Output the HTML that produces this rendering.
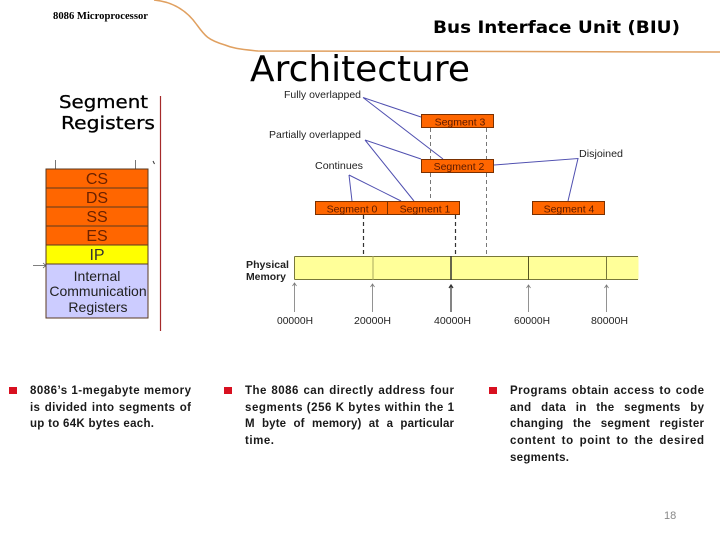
<!DOCTYPE html>
<html><head><meta charset="utf-8"><style>
html,body{margin:0;padding:0;background:#fff}
svg{display:block}
.b{font-family:"Liberation Sans",sans-serif;font-size:11.5px;font-weight:bold;fill:#1a1a1a}
.d{font-family:"Liberation Sans",sans-serif;font-size:10.5px;fill:#222}
.s{font-family:"Liberation Sans",sans-serif;font-size:10.5px;fill:#5a1a00;text-anchor:middle}
.r{font-family:"Liberation Sans",sans-serif;font-size:16px;fill:#6a2200;text-anchor:middle}
.c{font-family:"Liberation Sans",sans-serif;font-size:14px;fill:#222;text-anchor:middle}
.h{font-family:"DejaVu Sans",sans-serif;font-weight:bold;fill:#000}
</style></head><body>
<svg width="720" height="540" viewBox="0 0 720 540" xmlns="http://www.w3.org/2000/svg">
<rect width="720" height="540" fill="#fff"/>
<path d="M154 0C175 2 188 12 197 25C205 36 208 40 225 45C232 48 238 49 258 51L720 52" fill="none" stroke="#e0a060" stroke-width="1.5"/>
<text x="53" y="19" font-family="Liberation Serif,serif" font-size="11" font-weight="bold" textLength="95" lengthAdjust="spacingAndGlyphs">8086 Microprocessor</text>
<text class="h" x="433" y="33" font-size="17" textLength="247" lengthAdjust="spacingAndGlyphs">Bus Interface Unit (BIU)</text>
<text x="250" y="81" font-family="DejaVu Sans,sans-serif" font-size="36" fill="#000" textLength="220" lengthAdjust="spacingAndGlyphs">Architecture</text>
<text class="h" style="font-weight:normal;stroke:#000;stroke-width:.3" x="59" y="108" font-size="18" textLength="89" lengthAdjust="spacingAndGlyphs">Segment</text>
<text class="h" style="font-weight:normal;stroke:#000;stroke-width:.3" x="61" y="129" font-size="18" textLength="94" lengthAdjust="spacingAndGlyphs">Registers</text>
<line x1="160.500" y1="96" x2="160.500" y2="331" stroke="#a52a2a" stroke-width="1.2"/>
<path d="M55.500 160V169M135.500 160V169" stroke="#777" stroke-width="1"/>
<path d="M153 161l1.500 3" stroke="#333"/>
<g stroke="#5a3a20" stroke-width="1">
<rect x="46" y="169" width="102" height="19" fill="#ff6600"/>
<rect x="46" y="188" width="102" height="19" fill="#ff6600"/>
<rect x="46" y="207" width="102" height="19" fill="#ff6600"/>
<rect x="46" y="226" width="102" height="19" fill="#ff6600"/>
<rect x="46" y="245" width="102" height="19" fill="#ffff00"/>
<rect x="46" y="264" width="102" height="54" fill="#ccccff"/>
</g>
<text class="r" x="97" y="184">CS</text>
<text class="r" x="97" y="203">DS</text>
<text class="r" x="97" y="222">SS</text>
<text class="r" x="97" y="241">ES</text>
<text class="r" x="97" y="260" style="fill:#333">IP</text>
<text class="c" x="97" y="281">Internal</text>
<text class="c" x="98" y="296">Communication</text>
<text class="c" x="98" y="312">Registers</text>
<path d="M33 265.500H46M43 263l3 2.500-3 2.500" fill="none" stroke="#555" stroke-width=".8"/>

<text class="d" x="284" y="98" textLength="77" lengthAdjust="spacingAndGlyphs">Fully overlapped</text>
<text class="d" x="269" y="138" textLength="92" lengthAdjust="spacingAndGlyphs">Partially overlapped</text>
<text class="d" x="315" y="169" textLength="48" lengthAdjust="spacingAndGlyphs">Continues</text>
<text class="d" x="579" y="157" textLength="44" lengthAdjust="spacingAndGlyphs">Disjoined</text>
<g fill="none" stroke="#5050b0" stroke-width="1">
<path d="M363 97.500L421 117M363 97.500L443 159"/>
<path d="M365 140L421 159M365 140L414 201"/>
<path d="M349 175L352 201M349 175L401 201"/>
<path d="M494 165L578 158.500L568 201"/>
</g>
<g stroke="#777" stroke-width="1" fill="none" stroke-dasharray="4 3">
<path d="M430.500 128V159M486.500 128V159"/>
<path d="M430.500 173V201M486.500 173V256"/>
</g>
<g stroke="#7a3000" stroke-width="1" fill="#ff6600">
<rect x="421.500" y="114.500" width="72" height="13"/>
<rect x="421.500" y="159.500" width="72" height="13"/>
<rect x="315.500" y="201.500" width="72" height="13"/>
<rect x="387.500" y="201.500" width="72" height="13"/>
<rect x="532.500" y="201.500" width="72" height="13"/>
</g>
<text class="s" x="460" y="125.500">Segment 3</text>
<text class="s" x="459" y="170">Segment 2</text>
<text class="s" x="352" y="212.500">Segment 0</text>
<text class="s" x="425" y="212.500">Segment 1</text>
<text class="s" x="569" y="212.500">Segment 4</text>
<g stroke="#333" stroke-dasharray="4 3" fill="none" stroke-width="1.200">
<path d="M363.500 215V256M455.500 215V256"/>
</g>
<rect x="294.500" y="256.500" width="344" height="23" fill="#ffff99"/>
<path d="M294.500 256.500H638M294.500 279.500H638M294.500 256.500V279.500" fill="none" stroke="#77773a" stroke-width="1"/>
<path d="M373 256V280" stroke="#a8a860" stroke-width="1"/>
<path d="M451 256V280" stroke="#333" stroke-width="1.500"/>
<path d="M528.500 256V280" stroke="#555520" stroke-width="1"/>
<path d="M606.500 256V280" stroke="#77773a" stroke-width="1"/>
<text x="246" y="268" font-family="Liberation Sans,sans-serif" font-size="10" font-weight="bold" fill="#222" textLength="43" lengthAdjust="spacingAndGlyphs">Physical</text>
<text x="246" y="280" font-family="Liberation Sans,sans-serif" font-size="10" font-weight="bold" fill="#222" textLength="40" lengthAdjust="spacingAndGlyphs">Memory</text>
<g fill="none" stroke="#777" stroke-width=".8">
<path d="M294.500 312V283M292.500 286l2-3 2 3"/>
<path d="M372.500 312V284M370.500 287l2-3 2 3"/>
<path d="M451 312V285M449 288l2-3 2 3" stroke="#333" stroke-width="1.200"/>
<path d="M528.500 312V285M526.500 288l2-3 2 3"/>
<path d="M606.500 312V285M604.500 288l2-3 2 3"/>
</g>
<text class="d" x="277" y="324" textLength="36" lengthAdjust="spacingAndGlyphs">00000H</text>
<text class="d" x="354" y="324" textLength="37" lengthAdjust="spacingAndGlyphs">20000H</text>
<text class="d" x="434" y="324" textLength="37" lengthAdjust="spacingAndGlyphs">40000H</text>
<text class="d" x="514" y="324" textLength="36" lengthAdjust="spacingAndGlyphs">60000H</text>
<text class="d" x="591" y="324" textLength="37" lengthAdjust="spacingAndGlyphs">80000H</text>

<rect x="9" y="387" width="8" height="7" fill="#d81020"/>
<rect x="224" y="387" width="8" height="7" fill="#d81020"/>
<rect x="489" y="387" width="8" height="7" fill="#d81020"/>
<text class="b" x="30" y="394" textLength="161" lengthAdjust="spacing">8086’s 1-megabyte memory</text>
<text class="b" x="30" y="411" textLength="161" lengthAdjust="spacing" word-spacing="1">is divided into segments of</text>
<text class="b" x="30" y="427" textLength="124" lengthAdjust="spacing">up to 64K bytes each.</text>
<text class="b" x="245" y="394" textLength="209" lengthAdjust="spacing" word-spacing="1">The 8086 can directly address four</text>
<text class="b" x="245" y="411" textLength="209" lengthAdjust="spacing">segments (256 K bytes within the 1</text>
<text class="b" x="245" y="427" textLength="209" lengthAdjust="spacing" word-spacing="4">M byte of memory) at a particular</text>
<text class="b" x="245" y="444" textLength="29" lengthAdjust="spacing">time.</text>
<text class="b" x="510" y="394" textLength="194" lengthAdjust="spacing" word-spacing="1">Programs obtain access to code</text>
<text class="b" x="510" y="411" textLength="194" lengthAdjust="spacing" word-spacing="6">and data in the segments by</text>
<text class="b" x="510" y="427" textLength="194" lengthAdjust="spacing" word-spacing="6">changing the segment register</text>
<text class="b" x="510" y="444" textLength="194" lengthAdjust="spacing" word-spacing="2">content to point to the desired</text>
<text class="b" x="510" y="461" textLength="59" lengthAdjust="spacing">segments.</text>
<text x="664" y="519" font-family="Liberation Sans,sans-serif" font-size="11" fill="#888">18</text>
</svg>
</body></html>
